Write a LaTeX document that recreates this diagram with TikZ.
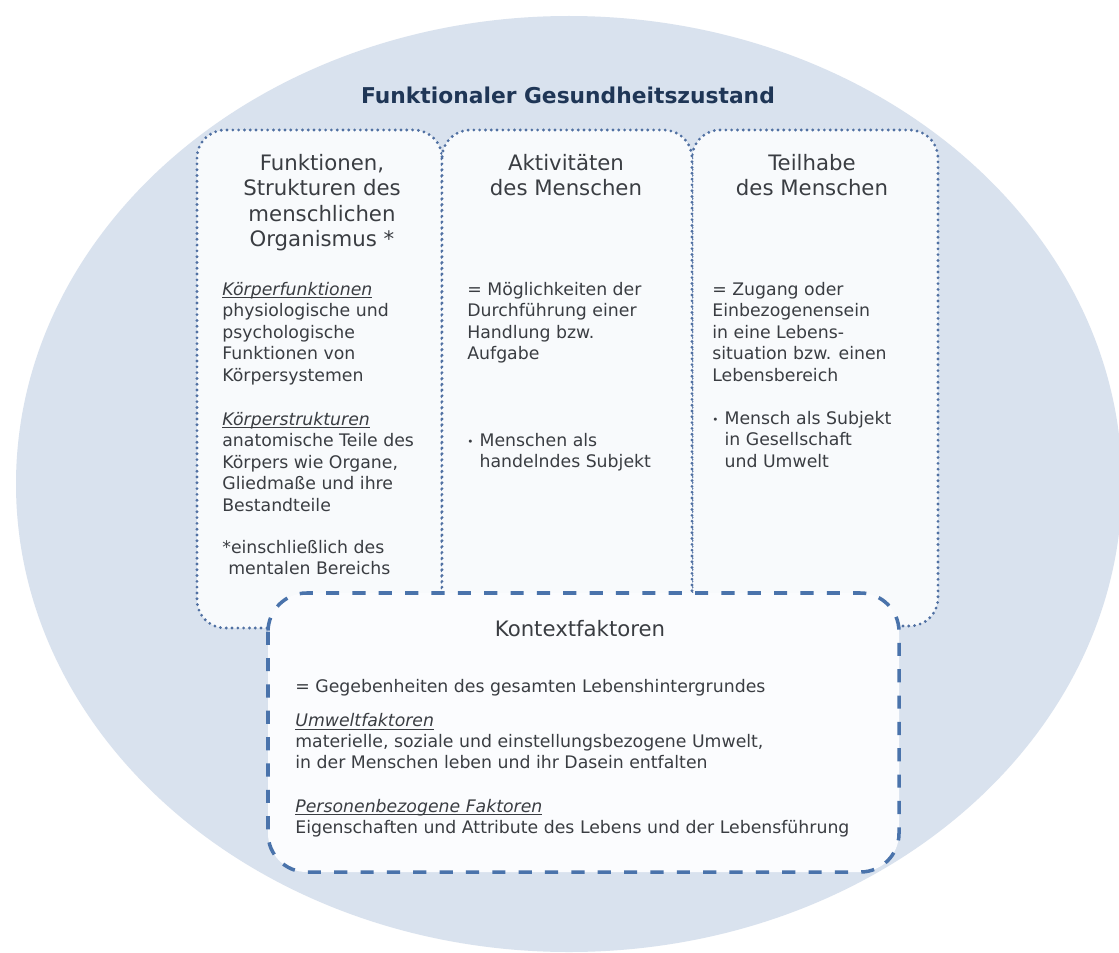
\documentclass[tikz,border=0pt]{standalone}
\usepackage{fontspec}
\usepackage{graphicx}
\setmainfont{DejaVu Sans}
\definecolor{ellip}{HTML}{D9E2EE}
\definecolor{boxfill}{HTML}{F8FAFC}
\definecolor{boxfillb}{HTML}{FBFCFE}
\definecolor{dotc}{HTML}{5070A2}
\definecolor{dashc}{HTML}{4A73AB}
\definecolor{titlec}{HTML}{1F3656}
\definecolor{txt}{HTML}{3A3D42}
\newcommand{\myul}[1]{\setbox0\hbox{#1}\rlap{\rule[-1.6pt]{\wd0}{0.45pt}}\box0}
\newcommand{\mybul}{\makebox[7pt][l]{\raisebox{0.6pt}{\scalebox{0.6}{\textbullet}}}}
\begin{document}
\begin{tikzpicture}[x=0.02cm,y=-0.02cm,
  dotbox/.style={draw=dotc, fill=boxfill, line width=1.8pt, line cap=round,
    dash pattern=on 0pt off 3.3pt, rounded corners=16pt},
  dashbox/.style={draw=dashc, fill=boxfillb, line width=2pt,
    dash pattern=on 7.5pt off 7.5pt, rounded corners=22pt},
  head/.style={font=\fontsize{12.1}{14.5}\selectfont, text=txt, align=center,
    inner sep=0pt, anchor=base},
  body/.style={font=\fontsize{9.85}{12.25}\selectfont, text=txt, align=left,
    inner sep=0pt, anchor=base west},
  ttl/.style={font=\bfseries\fontsize{12.4}{14}\selectfont, text=titlec,
    inner sep=0pt, anchor=base}]
\useasboundingbox (0,0) rectangle (1119,953);
\clip (0,0) rectangle (1119,953);
\fill[white] (0,0) rectangle (1119,953);
% large ellipse
\fill[ellip] (569,484) ellipse [x radius=553, y radius=468];
% title
\node[ttl] (title) at (568,104) {Funktionaler Gesundheitszustand};
% three dotted boxes
\draw[dotbox] (197,130) rectangle (442,628);
\draw[dotbox] (692,130) rectangle (938,626);
\draw[dotbox] (442,130) rectangle (692,650);
% dashed context box
\draw[dashbox] (268,593) rectangle (899,872);
% headings (anchor = baseline of the last line)
\node[head] (h1) at (322,246.5) {Funktionen,\\Strukturen des\\menschlichen\\Organismus *};
\node[head] (h2) at (566,195.5) {Aktivitäten\\des Menschen};
\node[head] (h3) at (812,195.5) {Teilhabe\\des Menschen};
\node[head] (h4) at (580,636) {Kontextfaktoren};
% box 1 body
\node[body] (b1a) at (222,381.4) {\myul{\itshape Körperfunktionen}\\physiologische und\\psychologische\\Funktionen von\\Körpersystemen};
\node[body] (b1b) at (222,511.4) {\myul{\itshape Körperstrukturen}\\anatomische Teile des\\Körpers wie Organe,\\Gliedmaße und ihre\\Bestandteile};
\node[body] (b1c) at (222,574.6) {*einschließlich des\\\hspace*{3.4pt}mentalen Bereichs};
% box 2 body
\node[body] (b2a) at (467,359.8) {= Möglichkeiten der\\Durchführung einer\\Handlung bzw.\\Aufgabe};
\node[body] (b2b) at (467,467.6) {\mybul Menschen als\\\hspace*{7pt}handelndes Subjekt};
% box 3 body
\node[body] (b3a) at (712,381.4) {= Zugang oder\\Einbezogenensein\\in eine Lebens-\\situation bzw. einen\\Lebensbereich};
\node[body] (b3b) at (712,467.2) {\mybul Mensch als Subjekt\\\hspace*{7pt}in Gesellschaft\\\hspace*{7pt}und Umwelt};
% context body
\node[body] (b4a) at (295,692) {= Gegebenheiten des gesamten Lebenshintergrundes};
\node[body, font=\fontsize{9.85}{11.8}\selectfont] (b4b) at (295,768) {\myul{\itshape Umweltfaktoren}\\materielle, soziale und einstellungsbezogene Umwelt,\\in der Menschen leben und ihr Dasein entfalten};
\node[body] (b4c) at (295,833.6) {\myul{\itshape Personenbezogene Faktoren}\\Eigenschaften und Attribute des Lebens und der Lebensführung};
\end{tikzpicture}
\end{document}
